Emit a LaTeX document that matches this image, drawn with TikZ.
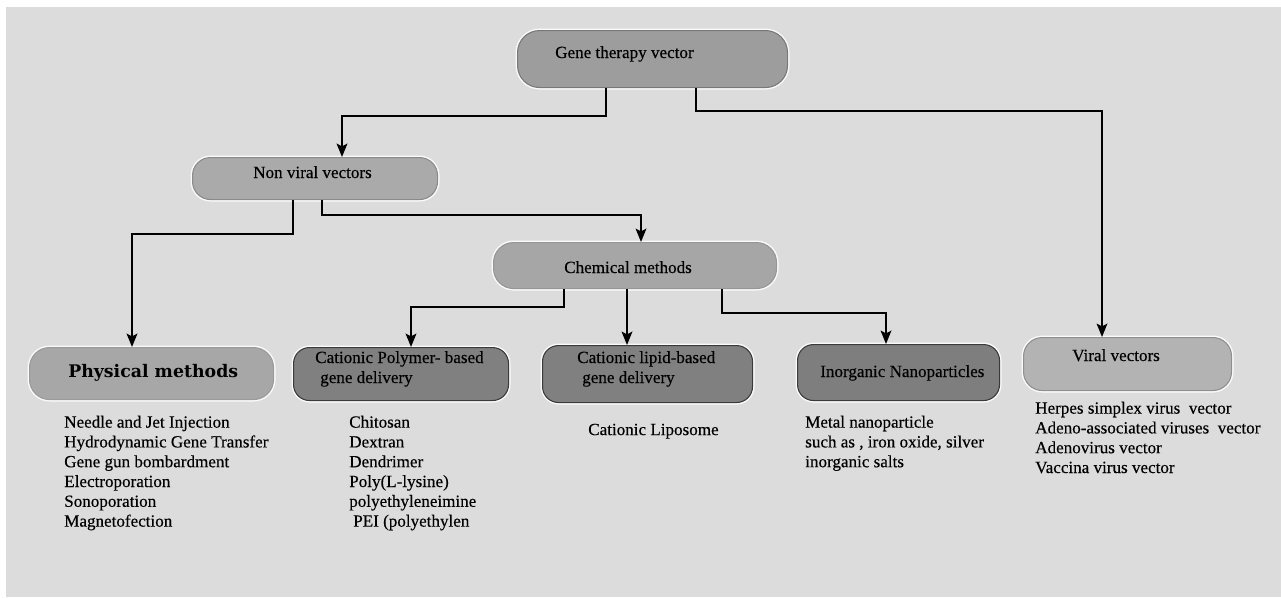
\documentclass[tikz,border=0pt]{standalone}
\usepackage{fontspec}
\setmainfont{Liberation Serif}[FakeBold=0.35]
\newfontfamily\physfont{DejaVu Serif}
\usetikzlibrary{calc,arrows.meta}
\definecolor{bg}{HTML}{DCDCDC}
\tikzset{
  x=0.75pt, y=-0.75pt,
  boxbase/.style={rectangle, anchor=north west, inner sep=0pt, line width=0.8pt,
    preaction={draw=white!85!bg, line width=3pt}},
  lbl/.style={anchor=base west, inner sep=0pt, font=\fontsize{12.8pt}{14.85pt}\selectfont},
  lst/.style={anchor=north west, inner sep=0pt, align=left, font=\fontsize{12.8pt}{14.85pt}\selectfont},
  arr/.style={draw=black, line width=1.5pt, -{Stealth[length=10pt,width=8pt,inset=2pt]}},
}
\begin{document}
\begin{tikzpicture}
\useasboundingbox (0,0) rectangle (1281,597);
\fill[white] (0,0) rectangle (1281,597);
\fill[bg] (6,7) rectangle (1281,597);

% boxes
\node[boxbase, rounded corners=16.5pt, fill={rgb,255:red,157;green,157;blue,157}, draw={rgb,255:red,120;green,120;blue,120},
  minimum width=202.5pt, minimum height=42.75pt] (gtv) at (517,30) {};
\node[boxbase, rounded corners=13.5pt, fill={rgb,255:red,170;green,170;blue,170}, draw={rgb,255:red,138;green,138;blue,138},
  minimum width=183.75pt, minimum height=31.5pt] (nvv) at (192,157) {};
\node[boxbase, rounded corners=15pt, fill={rgb,255:red,166;green,166;blue,166}, draw={rgb,255:red,150;green,150;blue,150},
  minimum width=212.25pt, minimum height=34.5pt] (chm) at (493,242) {};
\node[boxbase, rounded corners=15pt, fill={rgb,255:red,167;green,167;blue,167}, draw={rgb,255:red,154;green,154;blue,154},
  minimum width=183pt, minimum height=39pt] (phy) at (29,347) {};
\node[boxbase, rounded corners=12pt, fill={rgb,255:red,128;green,128;blue,128}, draw={rgb,255:red,58;green,58;blue,58},
  minimum width=161.25pt, minimum height=39.75pt] (cpb) at (293,347) {};
\node[boxbase, rounded corners=12pt, fill={rgb,255:red,128;green,128;blue,128}, draw={rgb,255:red,58;green,58;blue,58},
  minimum width=157.5pt, minimum height=42.75pt] (clb) at (542,345) {};
\node[boxbase, rounded corners=12pt, fill={rgb,255:red,126;green,126;blue,126}, draw={rgb,255:red,58;green,58;blue,58},
  minimum width=151.5pt, minimum height=42pt] (ino) at (797,344) {};
\node[boxbase, rounded corners=14pt, fill={rgb,255:red,179;green,179;blue,179}, draw={rgb,255:red,143;green,143;blue,143},
  minimum width=156pt, minimum height=39.75pt] (vir) at (1023,337) {};

% box labels
\node[lbl] (tgtv) at (555,58) {Gene therapy vector};
\node[lbl] (tnvv) at (253,178) {Non viral vectors};
\node[lbl] (tchm) at (564,273) {Chemical methods};
\node[anchor=base west, inner sep=0pt, font=\physfont\bfseries\fontsize{13pt}{15pt}\selectfont] (tphy) at (68,377) {Physical methods};
\node[lbl] (tcpb1) at (315,363) {Cationic Polymer- based};
\node[lbl] (tcpb2) at (320,383) {gene delivery};
\node[lbl] (tclb1) at (577,363) {Cationic lipid-based};
\node[lbl] (tclb2) at (582,383) {gene delivery};
\node[lbl] (tino) at (820,377) {Inorganic Nanoparticles};
\node[lbl] (tvir) at (1072,361) {Viral vectors};

% lists
\node[lst] (lphy) at (64,415.5) {Needle and Jet Injection\\Hydrodynamic Gene Transfer\\Gene gun bombardment\\Electroporation\\Sonoporation\\Magnetofection};
\node[lst] (lcpb) at (349,415.5) {Chitosan\\Dextran\\Dendrimer\\Poly(L-lysine)\\polyethyleneimine\\\hspace*{3pt}PEI (polyethylen};
\node[lst] (lclb) at (588,423.5) {Cationic Liposome};
\node[lst] (lino) at (805,415.5) {Metal nanoparticle\\such as , iron oxide, silver\\inorganic salts};
\node[lst] (lvir) at (1035,401.5) {Herpes simplex virus~ vector\\Adeno-associated viruses~ vector\\Adenovirus vector\\Vaccina virus vector};

% connectors
\draw[arr] ($(gtv.south west)+(89,0)$) -- ++(0,28) -| ($(nvv.north west)+(150,0)$);
\draw[arr] ($(gtv.south west)+(179,0)$) -- ++(0,23) -| ($(vir.north west)+(79,0)$);
\draw[arr] ($(nvv.south west)+(101,0)$) -- ++(0,34) -| ($(phy.north west)+(103,0)$);
\draw[arr] ($(nvv.south west)+(130,0)$) -- ++(0,15) -| ($(chm.north west)+(148,0)$);
\draw[arr] ($(chm.south west)+(71,0)$) -- ++(0,18) -| ($(cpb.north west)+(118,0)$);
\draw[arr] ($(chm.south west)+(134,0)$) -- ($(clb.north west)+(85,0)$);
\draw[arr] ($(chm.south west)+(229,0)$) -- ++(0,24) -| ($(ino.north west)+(89,0)$);
\end{tikzpicture}
\end{document}
